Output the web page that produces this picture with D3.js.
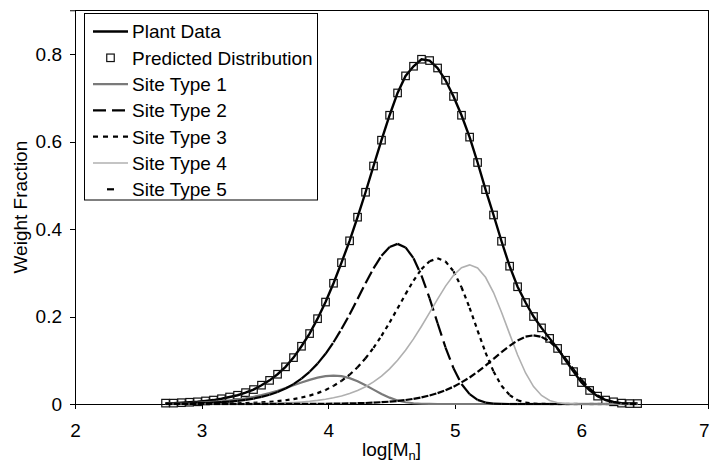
<!DOCTYPE html>
<html><head><meta charset="utf-8">
<script src="https://cdn.jsdelivr.net/npm/d3@7"></script>
<style>
html,body{margin:0;padding:0;background:#fff;}
svg{display:block;font-family:Arial,"Liberation Sans",sans-serif;}
</style></head><body>
<svg id="chart" width="710" height="464"></svg>
<script>
// ---- data ----
const logM = [2.715,2.778,2.841,2.905,2.968,3.031,3.094,3.157,3.221,3.284,
3.347,3.410,3.473,3.537,3.600,3.663,3.726,3.789,3.853,3.916,
3.979,4.042,4.105,4.169,4.232,4.295,4.358,4.421,4.485,4.548,
4.611,4.674,4.737,4.801,4.864,4.927,4.990,5.053,5.117,5.180,
5.243,5.306,5.369,5.433,5.496,5.559,5.622,5.685,5.749,5.812,
5.875,5.938,6.001,6.065,6.128,6.191,6.254,6.317,6.381,6.444];

const predicted = [0.002,0.002,0.003,0.004,0.005,0.007,0.009,0.012,0.016,0.020,
0.026,0.033,0.043,0.054,0.068,0.085,0.106,0.132,0.161,0.195,
0.233,0.276,0.323,0.373,0.427,0.484,0.544,0.603,0.660,0.711,
0.750,0.772,0.788,0.785,0.768,0.740,0.703,0.660,0.610,0.552,
0.490,0.432,0.372,0.315,0.268,0.232,0.200,0.174,0.150,0.127,
0.100,0.074,0.049,0.031,0.018,0.009,0.005,0.002,0.001,0.001];

const plantData = [0.002,0.002,0.003,0.004,0.005,0.007,0.009,0.012,0.016,0.020,
0.026,0.033,0.043,0.054,0.068,0.085,0.106,0.132,0.161,0.195,
0.233,0.276,0.323,0.373,0.427,0.484,0.544,0.603,0.660,0.711,
0.750,0.772,0.788,0.785,0.768,0.740,0.703,0.660,0.610,0.552,
0.490,0.432,0.372,0.315,0.268,0.232,0.200,0.174,0.150,0.127,
0.100,0.074,0.049,0.031,0.018,0.009,0.005,0.002,0.001,0.001];

const site1 = [0.0010,0.0013,0.0017,0.0022,0.0029,0.0038,0.0049,0.0063,0.0081,0.0103,
0.0131,0.0164,0.0204,0.0251,0.0304,0.0363,0.0427,0.0490,0.0551,0.0602,
0.0637,0.0650,0.0636,0.0592,0.0521,0.0429,0.0328,0.0229,0.0145,0.0081,
0.0040,0.0017,0.0006,0.0002,0,0,0,0,0,0,
0,0,0,0,0,0,0,0,0,0,
0,0,0,0,0,0,0,0,0,0];

const site2 = [0.0006,0.0008,0.0010,0.0014,0.0018,0.0023,0.0031,0.0041,0.0055,0.0072,
0.0094,0.0124,0.0162,0.0211,0.0274,0.0354,0.0455,0.0580,0.0735,0.0923,
0.1148,0.1412,0.1713,0.2046,0.2402,0.2761,0.3101,0.3388,0.3587,0.3660,
0.3579,0.3333,0.2932,0.2416,0.1845,0.1291,0.0815,0.0458,0.0225,0.0094,
0.0033,0.0009,0.0002,0,0,0,0,0,0,0,
0,0,0,0,0,0,0,0,0,0];

const site3 = [0.0001,0.0002,0.0002,0.0003,0.0004,0.0005,0.0007,0.0009,0.0012,0.0016,
0.0021,0.0028,0.0038,0.0050,0.0065,0.0086,0.0113,0.0148,0.0192,0.0249,
0.0322,0.0414,0.0528,0.0669,0.0840,0.1045,0.1284,0.1558,0.1861,0.2185,
0.2512,0.2822,0.3083,0.3263,0.3330,0.3257,0.3033,0.2668,0.2198,0.1679,
0.1174,0.0742,0.0417,0.0204,0.0086,0.0030,0.0008,0.0002,0,0,
0,0,0,0,0,0,0,0,0,0];

const site4 = [0.0000,0.0001,0.0001,0.0001,0.0001,0.0002,0.0002,0.0003,0.0004,0.0005,
0.0007,0.0009,0.0012,0.0015,0.0020,0.0027,0.0036,0.0047,0.0062,0.0082,
0.0108,0.0141,0.0183,0.0238,0.0308,0.0395,0.0504,0.0639,0.0802,0.0998,
0.1227,0.1488,0.1778,0.2087,0.2399,0.2695,0.2944,0.3116,0.3180,0.3110,
0.2896,0.2548,0.2099,0.1603,0.1121,0.0709,0.0398,0.0195,0.0082,0.0029,
0.0008,0.0002,0,0,0,0,0,0,0,0];

const site5 = [0,0,0,0,0,0,0,0,0,0,
0,0,0.0001,0.0001,0.0001,0.0001,0.0002,0.0003,0.0003,0.0004,
0.0006,0.0008,0.0010,0.0013,0.0018,0.0023,0.0031,0.0041,0.0053,0.0070,
0.0091,0.0118,0.0152,0.0195,0.0249,0.0315,0.0396,0.0493,0.0606,0.0735,
0.0878,0.1030,0.1185,0.1330,0.1454,0.1539,0.1570,0.1535,0.1430,0.1258,
0.1036,0.0791,0.0554,0.0350,0.0197,0.0096,0.0040,0.0014,0.0004,0.0001];

const xTicks = [2,3,4,5,6,7];
const yTicks = [0,0.2,0.4,0.6,0.8];
const legendLabels = ["Plant Data","Predicted Distribution","Site Type 1","Site Type 2","Site Type 3","Site Type 4","Site Type 5"];

// ---- drawing ----
const svg = d3.select("#chart");
const FS = 19;
const x = d3.scaleLinear().domain([2,7]).range([75,708]);
const y = d3.scaleLinear().domain([0,0.9]).range([404,10.25]);

const line = d3.line().x(d=>x(d[0])).y(d=>y(d[1]));
const pts = vals => logM.map((m,i)=>[m, vals[i]]);

// frame
svg.append("rect").attr("x",x(2)).attr("y",y(0.9)).attr("width",x(7)-x(2)).attr("height",y(0)-y(0.9))
  .attr("fill","none").attr("stroke","#000").attr("stroke-width",1).attr("shape-rendering","crispEdges");

// axes
const yAxis = d3.axisLeft(y).tickValues(yTicks).tickSize(5).tickPadding(8)
  .tickFormat(d=> d===0 ? "0" : d3.format(".1f")(d));
const gy = svg.append("g").attr("transform",`translate(${x(2)},0)`).call(yAxis);
const xAxis = d3.axisBottom(x).tickValues(xTicks).tickSize(5).tickPadding(15).tickFormat(d3.format("d"));
const gx = svg.append("g").attr("transform",`translate(0,${y(0)})`).call(xAxis);
[gx,gy].forEach(g=>{
  g.select(".domain").attr("stroke","#000");
  g.selectAll(".tick line").attr("stroke","#000").attr("shape-rendering","crispEdges");
  g.selectAll(".tick text").attr("font-size",FS).attr("font-family","Arial, 'Liberation Sans', sans-serif").attr("fill","#000");
});
// keep the last x label inside the window
gx.selectAll(".tick text").filter(d=>d===7).attr("text-anchor","end").attr("dx",x(7)<704?0:(709-x(7)));

// axis titles
svg.append("text").attr("transform",`translate(27,${(y(0)+y(0.9))/2}) rotate(-90)`)
  .attr("text-anchor","middle").attr("font-size",FS).attr("fill","#000").text("Weight Fraction");
const xt = svg.append("text").attr("x",(x(2)+x(7))/2).attr("y",456).attr("text-anchor","middle").attr("font-size",FS).attr("fill","#000");
xt.append("tspan").text("log[M");
xt.append("tspan").attr("font-size",13).attr("dy",4).text("n");
xt.append("tspan").attr("dy",-4).text("]");

const plot = svg.append("g");

// series in Excel order
plot.append("path").attr("d",line(pts(plantData))).attr("fill","none").attr("stroke","#000").attr("stroke-width",2.4);
plot.selectAll("rect.pred").data(pts(predicted)).join("rect").attr("class","pred")
  .attr("x",d=>x(d[0])-3.75).attr("y",d=>y(d[1])-3.75).attr("width",7.5).attr("height",7.5)
  .attr("fill","none").attr("stroke","#111").attr("stroke-width",1.2);

// dashed series: the dash pattern restarts on every segment, as in the reference
function segmented(vals, color, width, dash){
  plot.append("g").selectAll("path").data(d3.pairs(pts(vals))).join("path")
    .attr("d",p=>line(p)).attr("fill","none").attr("stroke",color).attr("stroke-width",width)
    .attr("stroke-dasharray",dash);
}
plot.append("path").attr("d",line(pts(site1))).attr("fill","none").attr("stroke","#7a7a7a").attr("stroke-width",2.2);
segmented(site2,"#000",2.2,"13,6");
segmented(site3,"#000",2.2,"4,4");
plot.append("path").attr("d",line(pts(site4))).attr("fill","none").attr("stroke","#b0b0b0").attr("stroke-width",1.6);
segmented(site5,"#000",2.2,"7,3");

// legend
const lg = svg.append("g");
lg.append("rect").attr("x",84.5).attr("y",13.5).attr("width",233).attr("height",186.5)
  .attr("fill","#fff").attr("stroke","#000").attr("stroke-width",1);
const rowY = i => 31.5 + 26.3*i;
legendLabels.forEach((lab,i)=>{
  lg.append("text").attr("x",132).attr("y",rowY(i)+6.8).attr("font-size",FS).attr("fill","#000").text(lab);
});
const sx0=93, sx1=128;
lg.append("line").attr("x1",sx0).attr("x2",sx1).attr("y1",rowY(0)).attr("y2",rowY(0)).attr("stroke","#000").attr("stroke-width",2.4);
lg.append("rect").attr("x",(sx0+sx1)/2-3.75).attr("y",rowY(1)-3.75).attr("width",7.5).attr("height",7.5).attr("fill","none").attr("stroke","#111").attr("stroke-width",1.2);
lg.append("line").attr("x1",sx0).attr("x2",sx1).attr("y1",rowY(2)).attr("y2",rowY(2)).attr("stroke","#7a7a7a").attr("stroke-width",2.2);
lg.append("line").attr("x1",sx0).attr("x2",sx1).attr("y1",rowY(3)).attr("y2",rowY(3)).attr("stroke","#000").attr("stroke-width",2.2).attr("stroke-dasharray","13,6");
lg.append("line").attr("x1",sx0).attr("x2",sx1).attr("y1",rowY(4)).attr("y2",rowY(4)).attr("stroke","#000").attr("stroke-width",2.2).attr("stroke-dasharray","5,5");
lg.append("line").attr("x1",sx0).attr("x2",sx1).attr("y1",rowY(5)).attr("y2",rowY(5)).attr("stroke","#b0b0b0").attr("stroke-width",1.6);
lg.append("line").attr("x1",107).attr("x2",114).attr("y1",rowY(6)).attr("y2",rowY(6)).attr("stroke","#000").attr("stroke-width",2.2);
</script>
</body></html>
